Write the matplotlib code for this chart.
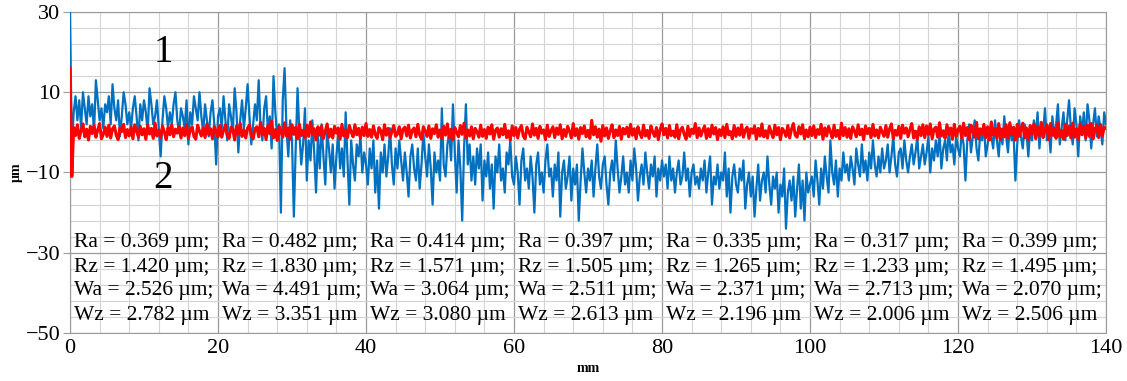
import numpy as np
import matplotlib
matplotlib.use("Agg")
import matplotlib.pyplot as plt
from matplotlib.ticker import MultipleLocator, FixedLocator

plt.rcParams['font.family'] = ['Liberation Serif', 'DejaVu Serif']

# profile 1 (blue), sampled every 0.25 mm, one row = 5 mm
step = 0.25
profile_1 = [30,
    -4, 5, 9, 3, 8, 1, 10, 6, 2, 9, 4, 7, 0, 13, 8, 3, 6, 1, 7, 5,
    9, 2, 12, 6, 3, 8, -1, 4, 10, 7, 2, 5, 1, 6, 9, 4, -2, 7, 3, 8,
    5, 0, 11, 7, 2, 4, 8, 1, -6, 3, 9, 6, 1, 5, 2, 7, 10, 3, 0, 6,
    4, 1, 8, -3, 5, 2, 9, 6, 3, 10, 4, 0, 7, 3, -1, 5, 8, 2, -8, 4,
    6, 1, 9, 3, -2, 7, 4, 0, 11, 5, -5, 3, 8, 1, 6, 12, 4, -3, 2, 7,
    3, 13, 1, -2, 6, 9, 0, 4, -4, 14, 5, -1, 2, -20, 8, 16, 1, -6, 3, -2,
    -21, -4, 11, 0, -8, -3, 6, -12, -2, -7, 3, -5, -15, -1, -9, 2, -6, -13, 0, -4,
    -10, -3, -14, -6, 0, -9, -4, -11, 5, -7, -18, -2, -8, -12, -3, -6, -1, -10, -5, -8,
    -13, -4, -9, -2, -15, -7, -19, -5, -10, -3, -11, -6, 1, -8, -13, -4, -9, -2, -7, -12,
    -5, -10, -16, -6, -3, -9, -12, -4, -14, -8, 0, -6, -11, -3, -9, -18, -5, -10, -7, -12,
    6, -8, -11, -3, 0, -7, 7, -5, -15, -2, -9, -22, -4, 7, -8, -3, -12, -6, -13, -4,
    -9, -3, -17, -7, -11, -5, -14, -8, -19, -6, -10, -3, -12, -9, -15, -5, -8, -2, -11, -13,
    -6, -10, -18, -7, -4, -12, -9, -14, -6, -11, -20, -8, -5, -13, -10, -15, -7, -3, -11, -9,
    -16, -8, -12, -5, -21, -10, -7, -14, -11, -6, -17, -9, -13, -8, -22, -12, -4, -10, -15, -9,
    -12, -7, -16, -9, -3, -11, -14, -8, -6, -13, -18, -10, -7, -12, -2, -9, -15, -11, -6, -13,
    -10, -15, -7, -12, -4, -9, -17, -11, -8, -13, -5, -10, -14, -8, -11, -6, -16, -9, -12, -7,
    -11, -8, -14, -6, -12, -9, -15, -10, -7, -13, -11, -5, -12, -9, -16, -10, -8, -13, -11, -14,
    -9, -12, -7, -15, -10, -6, -18, -11, -13, -8, -14, -10, -12, -5, -16, -9, -20, -11, -8, -13,
    -15, -9, -12, -7, -19, -13, -10, -16, -11, -21, -14, -8, -17, -12, -10, -15, -6, -13, -18, -11,
    -14, -10, -20, -13, -16, -9, -24, -15, -12, -17, -11, -21, -14, -8, -19, -12, -22, -10, -15, -13,
    -11, -16, -7, -12, -18, -9, -14, -6, -11, -15, -2, -10, -13, -7, -16, -9, -12, -5, -10, -8,
    -12, -6, -9, -13, -4, -8, -11, -3, -10, -7, -12, -5, -9, -2, -8, -11, -6, -10, -4, -9,
    -7, -3, -10, -6, -1, -8, -11, -5, -4, -9, -2, -7, -10, -6, -3, -8, -5, -1, -9, -6,
    -3, -8, -5, -1, -10, -4, -7, -2, -6, 0, -9, -4, -2, -7, 1, -5, -3, -8, -1, -4,
    -6, 0, -3, -12, -2, 2, -5, -1, 3, -4, -7, 0, -2, 2, -6, -3, 1, -1, -4, 3,
    -2, -6, 1, -3, 4, -1, -5, 2, -2, 0, -12, -3, 3, -1, -4, 2, 0, -6, 1, -2,
    3, -1, 5, -4, 2, 0, 6, -2, 1, -5, 4, -1, 2, 7, -3, 1, 5, -2, 3, 8,
    1, -3, 6, 2, -6, 4, 0, 5, -2, 7, 3, -4, 2, 6, -1, 4, 1, -3, 5, 2]

# profile 2 (red), same sampling
profile_2 = [16, -11,
    1.2, -0.8, 1.9, -1.5, 0.4, 2.1, -1.1, 0.8, -1.9, 1.5, -0.3, 1.7, -1.2, 0.6, 2.2, -1.6, -0.5, 1.3, -1.0, 1.8,
    -1.4, 0.9, 1.6, -0.7, -1.8, 1.1, 0.2, 2.0, -1.3, 0.7, -0.9, 1.4, -1.6, 1.9, 0.3, -1.2, 1.5, -0.6, 0.9, -1.7,
    1.8, -0.4, 1.0, -1.5, 2.3, -0.9, 0.5, -1.3, 1.6, 0.1, -1.8, 1.2, -0.6, 1.9, -1.1, 0.8, -0.2, 1.5, -1.4, 1.1,
    -0.8, 2.0, -1.5, 0.6, 1.4, -1.0, -1.7, 1.8, 0.3, -0.9, 1.2, -1.3, 2.1, -0.5, 0.9, -1.6, 1.5, 0.0, -1.1, 1.7,
    -1.2, 0.5, 1.9, -0.7, -1.5, 1.3, 0.8, -1.9, 1.6, -0.4, 2.2, -1.0, 0.6, -1.4, 1.1, 1.8, -0.8, -1.6, 0.9, 1.4,
    -1.1, 2.5, -0.6, 1.0, -1.8, 1.7, -0.3, 2.8, -1.4, 0.7, -2.0, 1.5, 0.2, -1.2, 2.4, -0.9, 1.1, -1.7, 1.9, -0.5,
    1.3, -1.6, 2.0, -0.8, 0.5, -1.3, 1.8, -1.0, 2.6, -0.4, 0.9, -1.9, 1.4, -0.7, 1.6, -1.5, 0.3, 2.1, -1.2, 0.8,
    -1.4, 1.5, -0.2, 1.1, -1.7, 2.0, -0.9, 0.6, -1.3, 1.7, 0.1, -1.1, 1.9, -0.6, 1.0, -1.5, 1.3, -0.8, 2.2, -1.0,
    0.7, -1.2, 1.6, -0.5, -1.5, 1.2, 0.4, -1.8, 1.9, -0.7, 1.0, -1.3, 0.2, 1.7, -1.0, -0.4, 1.4, -1.6, 0.8, 1.3,
    -0.9, 1.8, -1.4, 0.5, 1.1, -1.1, 2.0, -0.6, -1.7, 1.4, 0.3, -1.0, 1.6, -1.5, 0.9, -0.3, 1.9, -1.2, 0.6, -1.6,
    1.5, -0.7, 2.1, -1.3, 0.8, -1.8, 1.2, 0.0, -1.1, 1.7, -0.5, 2.3, -1.4, 0.6, -0.9, 1.4, -1.6, 1.0, 0.2, -1.2,
    1.8, -1.0, 0.7, -1.5, 1.3, -0.4, 1.9, -1.7, 0.5, 1.1, -1.2, 0.9, -0.6, 2.0, -1.3, 0.4, -1.9, 1.6, -0.8, 1.2,
    -1.4, 0.8, 1.7, -0.9, -1.6, 1.3, 0.1, -1.1, 2.1, -0.7, 1.0, -1.5, 1.5, -0.2, 0.6, -1.8, 1.8, -1.0, 0.4, 1.4,
    -1.3, 1.1, -0.5, 1.9, -1.6, 0.7, -1.0, 1.5, 0.3, -1.4, 2.2, -0.8, 0.9, -1.7, 1.2, -0.3, 1.6, -1.1, 0.5, -1.5,
    3.0, -0.6, 1.4, -1.2, 0.8, -2.2, 1.7, -0.9, 1.1, -1.5, 0.4, 1.9, -1.3, 0.6, -0.8, 1.5, -1.7, 1.0, -0.4, 1.3,
    -1.1, 2.0, -0.7, 0.9, -1.6, 1.4, -0.2, -1.3, 1.8, -0.9, 0.5, -1.5, 1.6, 0.1, -1.0, 1.2, -1.8, 0.7, 2.1, -0.6,
    1.0, -1.4, 1.7, -0.8, 0.3, -1.2, 1.9, -1.6, 0.6, 1.3, -0.5, -1.7, 1.5, -1.0, 0.8, -0.3, 2.2, -1.3, 1.1, -0.9,
    0.5, 1.6, -1.5, 0.9, -1.1, 1.8, -0.4, 1.2, -1.8, 0.7, -0.8, 1.4, -1.3, 2.0, -0.6, 0.2, -1.6, 1.7, -1.0, 1.1,
    -0.7, 1.9, -1.2, 0.6, 1.3, -1.5, 0.9, -0.2, 1.6, -1.7, 1.0, -0.9, 2.1, -1.1, 0.4, -1.4, 1.5, 0.0, -1.3, 1.8,
    -0.6, 1.2, -1.8, 1.0, 0.3, -1.0, 1.7, -1.4, 0.8, 2.2, -0.7, -1.2, 1.4, -0.4, 1.9, -1.6, 0.6, -1.1, 1.3, -0.8,
    1.6, -1.3, 0.7, -0.5, 2.0, -1.7, 1.1, -0.9, 1.5, 0.2, -1.4, 1.8, -1.0, 0.5, -1.6, 2.3, -0.8, 1.2, -1.2, 0.9,
    -1.5, 1.4, 0.4, -1.1, 1.9, -0.6, 0.8, -1.8, 1.6, -0.3, 1.0, -1.3, 2.0, -0.9, 0.6, -1.4, 1.3, 0.1, -1.0, 1.7,
    -1.2, 0.9, 2.1, -1.6, 0.5, -0.7, 1.5, -1.5, 1.8, -0.2, 1.1, -1.1, 0.7, 2.2, -1.4, 0.3, -1.7, 1.4, -0.8, 1.9,
    -1.3, 1.6, -0.6, 2.1, -1.6, 0.8, 1.3, -1.2, 2.4, -0.9, 0.4, -1.5, 1.9, -0.5, 1.1, -1.7, 2.0, -1.0, 0.7, 1.5,
    -1.4, 2.3, -0.8, 1.2, -1.8, 1.8, 0.2, -1.2, 2.5, -1.6, 0.9, -0.5, 2.0, -1.3, 1.4, -1.9, 2.6, -0.7, 1.0, -1.5,
    2.2, -1.7, 0.8, -1.1, 1.9, -1.5, 2.4, -0.6, 1.3, -1.9, 2.0, -1.0, 0.6, 2.3, -1.4, 1.1, -1.8, 1.7, -0.4, 2.1,
    -1.6, 1.4, -0.9, 2.5, -1.3, 0.7, 1.9, -1.8, 2.2, -0.7, 1.0, -1.5, 2.4, -1.1, 0.5, -1.7, 2.0, -0.8, 1.6, -1.4,
    2.3, -1.2, 0.9, -1.7, 2.1, -0.6, 1.5, -1.4, 1.8, -1.0, 2.2, -1.6, 0.8, 1.7, -1.3, 2.0, -0.9, 1.3, 1.0]

# roughness / waviness parameters for each 20 mm section
Ra = ["0.369", "0.482", "0.414", "0.397", "0.335", "0.317", "0.399"]
Rz = ["1.420", "1.830", "1.571", "1.505", "1.265", "1.233", "1.495"]
Wa = ["2.526", "4.491", "3.064", "2.511", "2.371", "2.713", "2.070"]
Wz = ["2.782", "3.351", "3.080", "2.613", "2.196", "2.006", "2.506"]
section_start = [0, 20, 40, 60, 80, 100, 120]

x1 = np.arange(len(profile_1)) * step
x2 = np.arange(len(profile_2)) * step

fig = plt.figure(figsize=(11.27, 3.81), dpi=100)
ax = fig.add_axes([0.0621, 0.126, 0.9193, 0.8425])

ax.plot(x1, profile_1, color='#0070C0', lw=1.6, zorder=3)
ax.plot(x2, profile_2, color='#FF0000', lw=2.2, zorder=4)

ax.set_xlim(0, 140)
ax.set_ylim(-50, 30)
ax.xaxis.set_major_locator(MultipleLocator(20))
ax.xaxis.set_minor_locator(MultipleLocator(4))
ax.yaxis.set_major_locator(FixedLocator([-50, -30, -10, 10, 30]))
ax.yaxis.set_minor_locator(FixedLocator(np.arange(-50, 31, 4)))
ax.grid(which='major', color='#9a9a9a', lw=0.9)
ax.grid(which='minor', color='#d4d4d4', lw=0.8)
ax.set_axisbelow(True)
for s in ax.spines.values():
    s.set_color('#9a9a9a')
ax.tick_params(which='major', labelsize=16, length=5, color='#9a9a9a', pad=2)
ax.tick_params(which='minor', length=0)
ax.tick_params(axis='x', length=0, pad=4)

ax.set_xlabel('mm', fontsize=10, fontweight='bold', labelpad=3)
ax.set_ylabel('µm', fontsize=10, fontweight='bold', labelpad=2)

ax.text(12.6, 19.8, '1', fontsize=28, ha='center', va='center', zorder=5)
ax.text(12.6, -11.6, '2', fontsize=28, ha='center', va='center', zorder=5)

rows = [(-27.4, 'Ra', Ra, ';'), (-33.6, 'Rz', Rz, ';'),
        (-39.3, 'Wa', Wa, ';'), (-45.6, 'Wz', Wz, '')]
for y, name, vals, end in rows:
    for i, x0 in enumerate(section_start):
        ax.text(x0 + 0.6, y, f'{name} = {vals[i]} µm{end}', fontsize=15.5,
                ha='left', va='center', zorder=5)

fig.savefig('out.png', dpi=100)
